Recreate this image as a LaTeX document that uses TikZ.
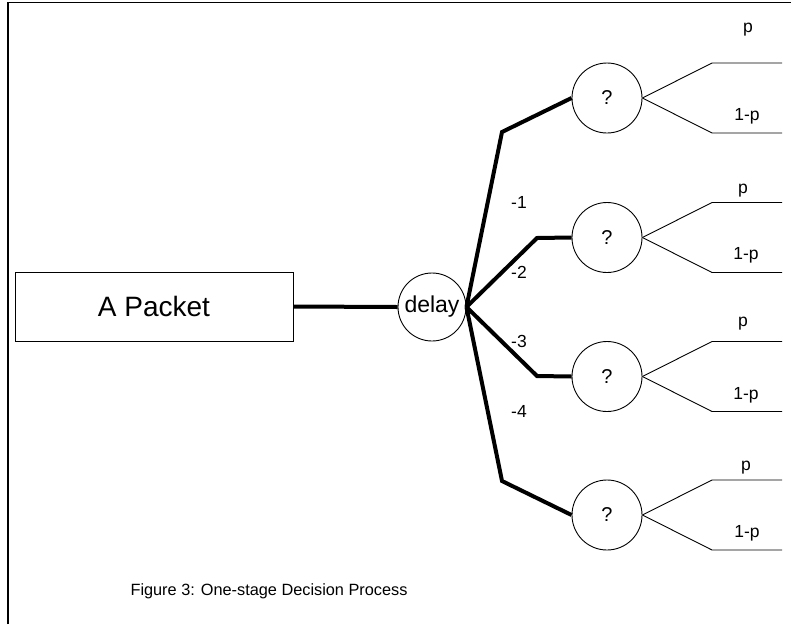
\documentclass[tikz,border=0pt]{standalone}
\usepackage{fontspec}
\setmainfont{Liberation Sans}
\begin{document}
\begin{tikzpicture}[x=1pt,y=-1pt,
  thickline/.style={line width=4pt, line join=miter},
  thinline/.style={line width=0.9pt},
  boxnode/.style={draw, line width=0.9pt, inner sep=0pt},
  chance/.style={circle, draw, line width=0.9pt, minimum size=70pt, inner sep=0pt, font=\fontsize{20}{24}\selectfont},
  lbl/.style={font=\fontsize{17.5}{20}\selectfont, inner sep=0pt},
]
\useasboundingbox (0,0) rectangle (791,624);
\draw[line width=1.5pt] (8,624) -- (8,2.5) -- (791,2.5);

\node[boxnode, minimum width=278pt, minimum height=69pt, font=\fontsize{28}{32}\selectfont] (packet) at (154,306.5) {A Packet};
\node[boxnode, circle, minimum size=68pt, font=\fontsize{23}{26}\selectfont] (delay) at (432,307) {delay};

\foreach \i/\y in {1/98,2/237.5,3/376.5,4/515}{
  \node[chance] (q\i) at (607,\y) {?};
  \coordinate (u\i) at (712,\y-35);
  \coordinate (ue\i) at (782,\y-35);
  \coordinate (l\i) at (712,\y+35);
  \coordinate (le\i) at (782,\y+35);
  \draw[thinline] (q\i.east) -- (u\i) -- (ue\i);
  \draw[thinline] (q\i.east) -- (l\i) -- (le\i);
}

\coordinate (b1) at (502,132);
\coordinate (b2) at (537,238);
\coordinate (b3) at (537,376);
\coordinate (b4) at (502,481);

\draw[thickline] (packet.east) -- (delay.west);
\draw[thickline] (delay.east) -- (b1) -- (q1.west);
\draw[thickline] (delay.east) -- (b2) -- (q2.west);
\draw[thickline] (delay.east) -- (b3) -- (q3.west);
\draw[thickline] (delay.east) -- (b4) -- (q4.west);

\node[lbl] (m1) at (519,202.5) {-1};
\node[lbl] (m2) at (519,272) {-2};
\node[lbl] (m3) at (519,341) {-3};
\node[lbl] (m4) at (519,411.5) {-4};

\node[lbl] (p1) at (748,30) {p};
\node[lbl] (p2) at (743,191) {p};
\node[lbl] (p3) at (743,324) {p};
\node[lbl] (p4) at (746,468) {p};
\node[lbl] (n1) at (747,116.5) {1-p};
\node[lbl] (n2) at (746,255) {1-p};
\node[lbl] (n3) at (746,395) {1-p};
\node[lbl] (n4) at (747,533.5) {1-p};

\node[font=\fontsize{16.3}{19}\selectfont, inner sep=0pt, anchor=base] (cap) at (269,595) {Figure 3: One-stage Decision Process};
\end{tikzpicture}
\end{document}
